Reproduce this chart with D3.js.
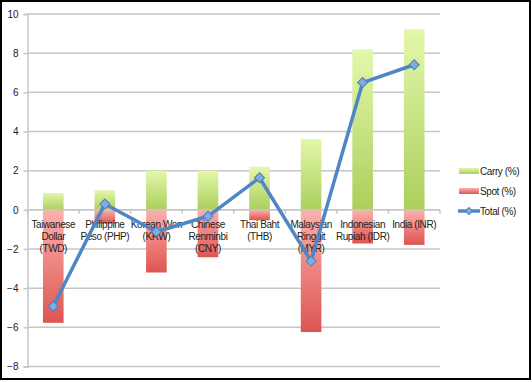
<!DOCTYPE html>
<html><head><meta charset="utf-8">
<script src="https://cdn.jsdelivr.net/npm/d3@7"></script>
<style>body{margin:0;background:#fff}svg{display:block}</style>
</head><body>
<script>
const categories = ["Taiwanese Dollar (TWD)","Philippine Peso (PHP)","Korean Won (KRW)","Chinese Renminbi (CNY)","Thai Baht (THB)","Malaysian Ringgit (MYR)","Indonesian Rupiah (IDR)","India (INR)"];
const labelLines = [["Taiwanese","Dollar","(TWD)"],["Philippine","Peso (PHP)"],["Korean Won","(KRW)"],["Chinese","Renminbi","(CNY)"],["Thai Baht","(THB)"],["Malaysian","Ringgit","(MYR)"],["Indonesian","Rupiah (IDR)"],["India (INR)"]];
const carry = [0.86, 1.0, 2.0, 2.0, 2.2, 3.62, 8.2, 9.22];
const spot  = [-5.77, -0.7, -3.2, -2.42, -0.53, -6.24, -1.72, -1.79];
const total = [-4.92, 0.3, -1.12, -0.33, 1.64, -2.62, 6.5, 7.41];
const yTicks = [-8,-6,-4,-2,0,2,4,6,8,10];
const seriesNames = ["Carry (%)","Spot (%)","Total (%)"];

const W=532,H=382;
const svg=d3.select("body").append("svg").attr("width",W).attr("height",H);
const defs=svg.append("defs");
const gG=defs.append("linearGradient").attr("id","gG").attr("x1",0).attr("y1",0).attr("x2",0).attr("y2",1);
gG.append("stop").attr("offset","0%").attr("stop-color","#e3f8ab");
gG.append("stop").attr("offset","100%").attr("stop-color","#abcf5c");
const gR=defs.append("linearGradient").attr("id","gR").attr("x1",0).attr("y1",0).attr("x2",0).attr("y2",1);
gR.append("stop").attr("offset","0%").attr("stop-color","#fbb0ae");
gR.append("stop").attr("offset","100%").attr("stop-color","#de5550");

svg.append("rect").attr("x",1).attr("y",1).attr("width",529).attr("height",378)
  .attr("fill","#fff").attr("stroke","#000").attr("stroke-width",2);

const x=d3.scaleBand().domain(categories).range([27.5,440]).paddingInner(0.6).paddingOuter(0.3);
const y=d3.scaleLinear().domain([-8,10]).range([366.5,14]);

svg.append("g").selectAll("line").data(yTicks).join("line")
  .attr("x1",27.5).attr("x2",440).attr("y1",d=>y(d)).attr("y2",d=>y(d))
  .attr("stroke","#c6c6c6").attr("stroke-width",1.5);

const ya=svg.append("g").attr("transform","translate(27.5,0)")
  .call(d3.axisLeft(y).tickValues(yTicks).tickSize(4).tickPadding(5));
ya.select(".domain").attr("stroke","#c6c6c6").attr("stroke-width",1.5);
ya.selectAll(".tick line").attr("stroke","#c6c6c6").attr("stroke-width",1.5);
ya.selectAll("text").attr("font-family","Liberation Sans, Arial, sans-serif").attr("font-size",10).attr("fill","#222");

svg.append("g").selectAll("rect").data(categories).join("rect")
  .attr("x",d=>x(d)).attr("width",x.bandwidth())
  .attr("y",(d,i)=>y(carry[i])).attr("height",(d,i)=>y(0)-y(carry[i]))
  .attr("fill","url(#gG)");
svg.append("g").selectAll("rect").data(categories).join("rect")
  .attr("x",d=>x(d)).attr("width",x.bandwidth())
  .attr("y",y(0)).attr("height",(d,i)=>y(spot[i])-y(0))
  .attr("fill","url(#gR)");

const xa=svg.append("g").attr("transform",`translate(0,${y(0)})`);
xa.append("line").attr("x1",27.5).attr("x2",440).attr("stroke","#c6c6c6").attr("stroke-width",1.5);
const bounds=d3.range(categories.length+1).map(i=>27.5+i*(412.5/categories.length));
xa.selectAll("line.t").data(bounds).join("line").attr("class","t")
  .attr("x1",d=>d).attr("x2",d=>d).attr("y1",0).attr("y2",4)
  .attr("stroke","#c6c6c6").attr("stroke-width",1.5);

const lg=svg.append("g").attr("font-family","Liberation Sans, Arial, sans-serif").attr("font-size",10).attr("letter-spacing","-0.4px").attr("fill","#222").attr("text-anchor","middle");
categories.forEach((c,i)=>{
  const t=lg.append("text").attr("x",x(c)+x.bandwidth()/2).attr("y",y(0)+18);
  labelLines[i].forEach((l,j)=>t.append("tspan").attr("x",x(c)+x.bandwidth()/2).attr("dy",j?12.2:0).text(l));
});

const cx=c=>x(c)+x.bandwidth()/2;
svg.append("path").datum(categories).attr("fill","none").attr("stroke","#4f86c6").attr("stroke-width",3.5)
  .attr("stroke-linejoin","round")
  .attr("d",d3.line().x(c=>cx(c)).y((c,i)=>y(total[i])));
const sym=d3.symbol().type(d3.symbolSquare).size(50);
svg.append("g").selectAll("path").data(categories).join("path")
  .attr("transform",(c,i)=>`translate(${cx(c)},${y(total[i])}) rotate(45)`)
  .attr("d",sym).attr("fill","#80acdf").attr("stroke","#4a7fc0").attr("stroke-width",1);

const leg=svg.append("g").attr("font-family","Liberation Sans, Arial, sans-serif").attr("font-size",10).attr("letter-spacing","-0.4px").attr("fill","#222");
const ly=[171,191,211];
leg.append("rect").attr("x",459).attr("y",ly[0]-3).attr("width",20).attr("height",6).attr("fill","url(#gG)");
leg.append("rect").attr("x",459).attr("y",ly[1]-3).attr("width",20).attr("height",6).attr("fill","url(#gR)");
leg.append("line").attr("x1",458).attr("x2",480).attr("y1",ly[2]).attr("y2",ly[2]).attr("stroke","#4f86c6").attr("stroke-width",3.5);
leg.append("path").attr("transform",`translate(469,${ly[2]}) rotate(45)`).attr("d",d3.symbol().type(d3.symbolSquare).size(24)).attr("fill","#80acdf").attr("stroke","#4a7fc0");
seriesNames.forEach((s,i)=>leg.append("text").attr("x",480).attr("y",ly[i]+3.5).text(s));
</script>
</body></html>
